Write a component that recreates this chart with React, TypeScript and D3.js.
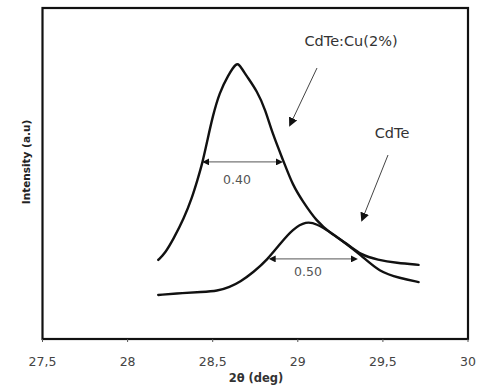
import React from "react";
import * as d3 from "d3";

const xTicks = [27.5, 28, 28.5, 29, 29.5, 30];
const xTickLabels = ["27,5", "28", "28,5", "29", "29,5", "30"];

const cuTheta = [28.18, 28.18, 28.22, 28.27, 28.33, 28.38, 28.41, 28.44, 28.47, 28.50, 28.54, 28.59, 28.64, 28.66, 28.70, 28.76, 28.81, 28.85, 28.92, 28.97, 29.03, 29.11, 29.19, 29.29, 29.37, 29.47, 29.58, 29.71, 29.71];
const cuIntensity = [23.9, 23.9, 25.9, 30.3, 36.3, 42.9, 48.0, 53.2, 60.3, 67.3, 74.5, 79.6, 83.6, 82.6, 79.4, 75.0, 69.2, 62.2, 53.2, 46.5, 41.5, 35.6, 32.0, 28.8, 25.4, 23.9, 23.0, 22.4, 22.4];

const cdTheta = [28.18, 28.18, 28.33, 28.43, 28.53, 28.60, 28.66, 28.74, 28.82, 28.90, 28.97, 29.05, 29.11, 29.19, 29.27, 29.37, 29.48, 29.60, 29.71, 29.71];
const cdIntensity = [13.3, 13.3, 13.9, 14.2, 14.5, 15.7, 17.2, 20.2, 23.9, 29.0, 33.2, 35.6, 34.8, 32.3, 29.3, 25.4, 20.2, 18.4, 17.2, 17.2];

const fwhmLabels = ["0.40", "0.50"];
const fwhmCu = { x1: 28.44, x2: 28.92, y: 53.5 };
const fwhmCd = { x1: 28.83, x2: 29.36, y: 24.2 };

const seriesLabels = ["CdTe:Cu(2%)", "CdTe"];

export default function App() {
  const W = 478, H = 387;
  const left = 42.5, right = 468, top = 8, bottom = 339;
  const x = d3.scaleLinear().domain([27.5, 30]).range([left, right]);
  const y = d3.scaleLinear().domain([0, 100]).range([bottom, top]);
  const line = d3
    .line<[number, number]>()
    .x((d) => x(d[0]))
    .y((d) => y(d[1]))
    .curve(d3.curveBasis);
  const cu = cuTheta.map((t, i) => [t, cuIntensity[i]] as [number, number]);
  const cd = cdTheta.map((t, i) => [t, cdIntensity[i]] as [number, number]);
  const font = "'DejaVu Sans', sans-serif";

  const arrowLine = (f: { x1: number; x2: number; y: number }) => (
    <line
      x1={x(f.x1) + 4}
      x2={x(f.x2) - 4}
      y1={y(f.y)}
      y2={y(f.y)}
      stroke="#777"
      strokeWidth={1.2}
      markerStart="url(#ahs)"
      markerEnd="url(#ahe)"
    />
  );

  return (
    <svg width={W} height={H} style={{ position: "absolute", left: 0, top: 0, background: "#fff" }}>
      <defs>
        <marker id="ahe" viewBox="0 0 10 10" refX="6" refY="5" markerWidth="7" markerHeight="7" orient="auto" markerUnits="userSpaceOnUse">
          <path d="M0,0 L10,5 L0,10 z" fill="#111" />
        </marker>
        <marker id="ahs" viewBox="0 0 10 10" refX="4" refY="5" markerWidth="7" markerHeight="7" orient="auto-start-reverse" markerUnits="userSpaceOnUse">
          <path d="M0,0 L10,5 L0,10 z" fill="#111" />
        </marker>
        <marker id="ahp" viewBox="0 0 10 10" refX="8" refY="5" markerWidth="9" markerHeight="9" orient="auto" markerUnits="userSpaceOnUse">
          <path d="M0,0 L10,5 L0,10 z" fill="#111" />
        </marker>
      </defs>
      <rect x={left} y={top} width={right - left} height={bottom - top} fill="none" stroke="#111" strokeWidth={2.2} />
      {xTicks.map((t, i) => (
        <g key={t}>
          <line x1={x(t)} x2={x(t)} y1={bottom} y2={bottom + 3} stroke="#555" strokeWidth={1} />
          <text x={x(t)} y={366} textAnchor="middle" fontSize={12.5} fill="#444" fontFamily={font}>
            {xTickLabels[i]}
          </text>
        </g>
      ))}
      <text x={256} y={382} textAnchor="middle" fontSize={11.5} fontWeight="bold" fill="#333" fontFamily={font}>
        2θ (deg)
      </text>
      <text
        transform={`translate(30,${162}) rotate(-90)`}
        textAnchor="middle"
        fontSize={10.5}
        fontWeight="bold"
        fill="#222"
        fontFamily={font}
      >
        Intensity (a.u)
      </text>

      <path d={line(cu) || ""} fill="none" stroke="#111" strokeWidth={2.4} strokeLinejoin="round" strokeLinecap="round" />
      <path d={line(cd) || ""} fill="none" stroke="#111" strokeWidth={2.4} strokeLinejoin="round" strokeLinecap="round" />

      {arrowLine(fwhmCu)}
      {arrowLine(fwhmCd)}
      <text x={237} y={184} textAnchor="middle" fontSize={12.5} fill="#555" fontFamily={font}>
        {fwhmLabels[0]}
      </text>
      <text x={308} y={276} textAnchor="middle" fontSize={12.5} fill="#555" fontFamily={font}>
        {fwhmLabels[1]}
      </text>

      <text x={351} y={46} textAnchor="middle" fontSize={14.5} fill="#333" fontFamily={font}>
        {seriesLabels[0]}
      </text>
      <line x1={317} y1={68} x2={290} y2={125} stroke="#444" strokeWidth={1} markerEnd="url(#ahp)" />
      <text x={392} y={138} textAnchor="middle" fontSize={14.5} fill="#333" fontFamily={font}>
        {seriesLabels[1]}
      </text>
      <line x1={388} y1={155} x2={362} y2={220} stroke="#444" strokeWidth={1} markerEnd="url(#ahp)" />
    </svg>
  );
}
